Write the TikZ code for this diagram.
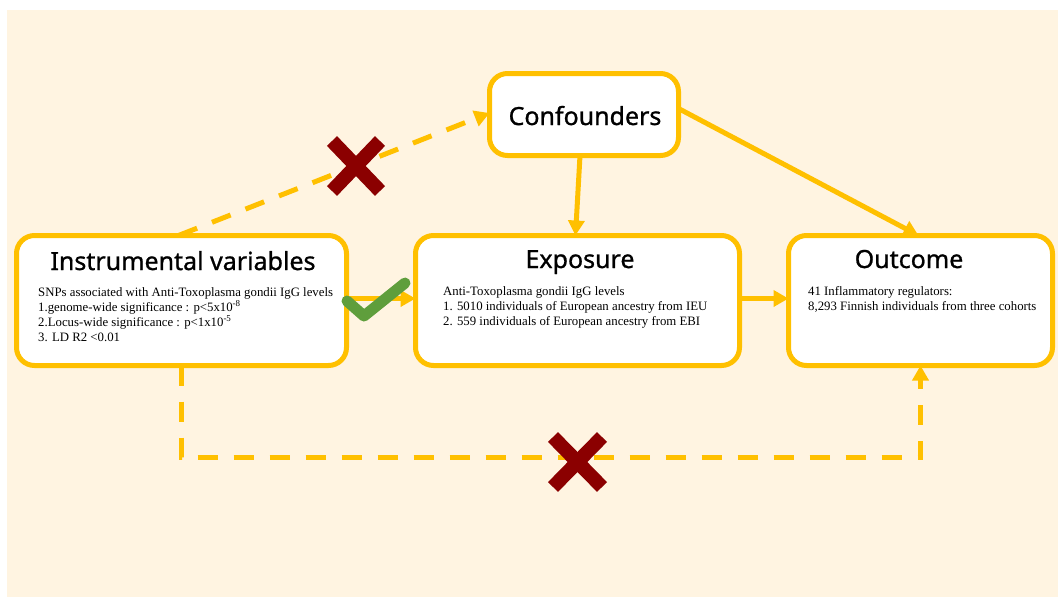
\documentclass[tikz,border=0pt]{standalone}
\usepackage{fontspec}
\setmainfont{Liberation Serif}
\newfontfamily\titlefont[FakeBold=0.9]{Noto Sans}
\usetikzlibrary{arrows.meta,calc}
\definecolor{gold}{RGB}{255,192,0}
\definecolor{bgc}{RGB}{255,244,225}
\definecolor{xred}{RGB}{139,0,0}
\definecolor{tickgreen}{RGB}{95,158,60}
\begin{document}
\begin{tikzpicture}[x=1pt,y=-1pt,
  box/.style={draw=gold, line width=5pt, fill=white, rounded corners=18pt, inner sep=0pt, outer sep=0pt},
  title/.style={font=\titlefont\fontsize{25}{30}\selectfont, anchor=base, inner sep=0pt},
  body/.style={font=\fontsize{12.8}{15}\selectfont, align=left, anchor=north west, inner sep=0pt},
  conn/.style={draw=gold, line width=5pt, -{Triangle[length=15pt,width=16pt]}},
  dashconn/.style={conn, dash pattern=on 20pt off 16pt},
  cross/.style={draw=xred, line width=14pt},
  tick/.style={draw=tickgreen, line width=11pt, line cap=round, line join=round},
]
\useasboundingbox (0,0) rectangle (1058,598);
\fill[bgc] (7,10) rectangle (1058,597);

% boxes
\node[box, minimum width=330pt, minimum height=130pt] (iv) at (181.5,300.5) {};
\node[box, minimum width=324pt, minimum height=130pt] (exp) at (577.5,300.5) {};
\node[box, minimum width=264pt, minimum height=130pt] (out) at (920.5,300.5) {};
\node[box, minimum width=189pt, minimum height=82pt] (conf) at (584,114.5) {};

% titles
\node[title] (ivt) at (183,270) {Instrumental variables};
\node[title] (expt) at (580,268) {Exposure};
\node[title] (outt) at (909,268) {Outcome};
\node[title] (conft) at (585,125) {Confounders};

% bodies
\node[body] (ivb) at (38,287.2) {SNPs associated with Anti-Toxoplasma gondii IgG levels\\
1.genome-wide significance : p<5x10\textsuperscript{-8}\\
2.Locus-wide significance : p<1x10\textsuperscript{-5}\\
3. LD R2 <0.01};
\node[body] (expb) at (443,286.2) {Anti-Toxoplasma gondii IgG levels\\
1. 5010 individuals of European ancestry from IEU\\
2. 559 individuals of European ancestry from EBI};
\node[body] (outb) at (808,286.2) {41 Inflammatory regulators:\\
8,293 Finnish individuals from three cohorts};

% connectors
\draw[dashconn] ($(iv.north)+(-3,0)$) -- ($(conf.west)+(0,-1.5)$);
\draw[conn] ($(conf.south)+(-4,0)$) -- ($(exp.north)+(-2,0)$);
\draw[conn] ($(conf.east)+(0,-6)$) -- ($(out.north)+(-2,0)$);
\draw[conn] ($(iv.east)+(0,-2)$) -- ($(exp.west)+(0,-2)$);
\draw[conn] ($(exp.east)+(0,-2)$) -- ($(out.west)+(0,-2)$);
\draw[dashconn] (iv.south) -- ++(0,92) coordinate (bend) -| (out.south);

% crosses
\draw[cross] (332,141) -- (380,191);
\draw[cross] (380,141) -- (332,191);
\draw[cross] (553,437) -- (602,487);
\draw[cross] (602,437) -- (553,487);

% tick
\draw[tick] (347,301) -- (364,316) -- (405,283);
\end{tikzpicture}
\end{document}
